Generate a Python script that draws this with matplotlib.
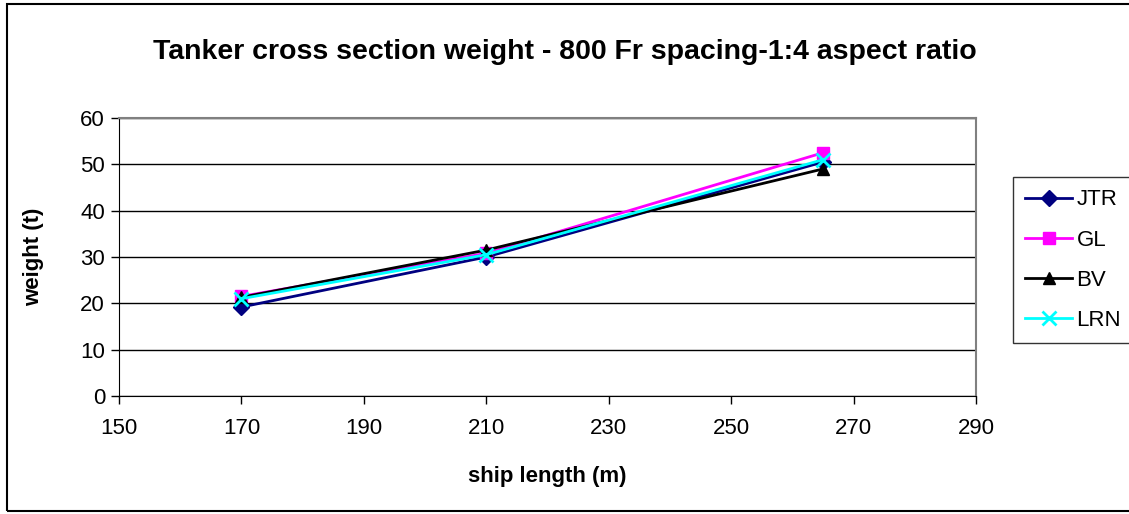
import matplotlib.pyplot as plt
from matplotlib.patches import Rectangle

plt.rcParams["font.family"] = ["Liberation Sans", "DejaVu Sans"]

ship_length = [170, 210, 265]
jtr = [19.2, 30.0, 50.5]
gl = [21.5, 30.8, 52.5]
bv = [21.3, 31.5, 49.0]
lrn = [21.0, 30.5, 51.0]

x_ticks = [150, 170, 190, 210, 230, 250, 270, 290]
y_ticks = [0, 10, 20, 30, 40, 50, 60]

fig = plt.figure(figsize=(11.29, 5.14), dpi=100)
W, H = 1129, 514
ax = fig.add_axes([119 / W, 1 - 396 / H, (976 - 119) / W, (396 - 118) / H])

# outer chart border
fig.patches.append(Rectangle((7 / W, 1 - 511 / H), 1.2, (511 - 4) / H,
                             transform=fig.transFigure, fill=False,
                             edgecolor="black", linewidth=1.5))

ax.plot(ship_length, jtr, color="#000080", lw=2, marker="D", ms=8, label="JTR")
ax.plot(ship_length, gl, color="#ff00ff", lw=2, marker="s", ms=8, label="GL")
ax.plot(ship_length, bv, color="black", lw=2, marker="^", ms=9, label="BV")
ax.plot(ship_length, lrn, color="#00ffff", lw=2, marker="x", ms=10, mew=2, label="LRN")

ax.set_xlim(150, 290)
ax.set_ylim(0, 60)
ax.set_xticks(x_ticks)
ax.set_yticks(y_ticks)
ax.tick_params(labelsize=16, length=6, width=1, direction="out", pad=4)
ax.tick_params(axis="x", pad=10)
ax.yaxis.grid(True, color="black", lw=1)
ax.set_axisbelow(True)
for s in ("top", "right"):
    ax.spines[s].set_color("#808080")
    ax.spines[s].set_linewidth(1.5)

ax.set_xlabel("ship length (m)", fontsize=16, fontweight="bold", labelpad=19)
ax.set_ylabel("weight (t)", fontsize=16, fontweight="bold", labelpad=26)
fig.text(565 / W, 1 - 52 / H, "Tanker cross section weight - 800 Fr spacing-1:4 aspect ratio",
         ha="center", va="center", fontsize=20.5, fontweight="bold")

leg = ax.legend(loc="upper left", bbox_to_anchor=(1013 / W, 1 - 177 / H),
                bbox_transform=fig.transFigure, fontsize=16, frameon=True,
                fancybox=False, edgecolor="black", borderaxespad=0,
                handlelength=2.1, labelspacing=0.86, handletextpad=0.2,
                borderpad=0.56)
leg.get_frame().set_linewidth(1)

fig.savefig("out.png", dpi=100)
